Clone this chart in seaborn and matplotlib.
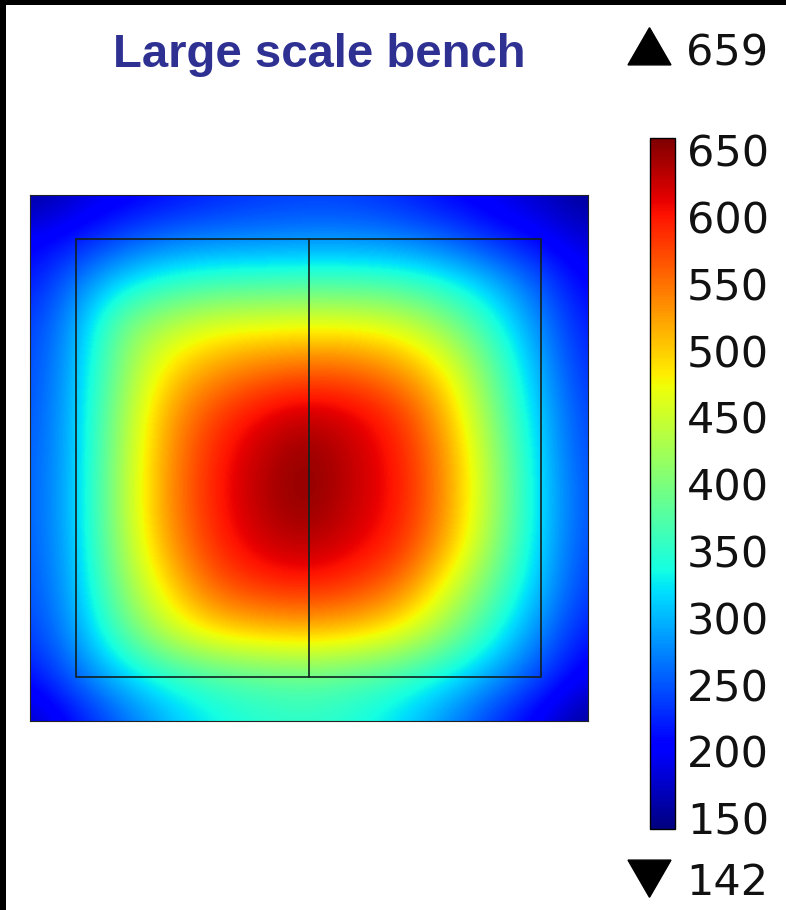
import numpy as np
import matplotlib
matplotlib.use("Agg")
import matplotlib.pyplot as plt
import seaborn as sns
from matplotlib.patches import Rectangle
from matplotlib.lines import Line2D

# ---------------- data ----------------
title_text = "Large scale bench"
value_min = 142
value_max = 659
cbar_ticks = [150, 200, 250, 300, 350, 400, 450, 500, 550, 600, 650]

# field values at a 13 x 13 grid of nodes (rows top -> bottom, cols left -> right)
row_00 = [150, 178, 195, 210, 222, 232, 236, 234, 222, 205, 190, 172, 148]
row_01 = [200, 215, 245, 262, 270, 272, 275, 275, 268, 252, 225, 205, 180]
row_02 = [215, 270, 320, 350, 360, 364, 367, 367, 360, 337, 300, 250, 200]
row_03 = [235, 290, 400, 440, 468, 472, 476, 474, 460, 412, 345, 275, 215]
row_04 = [240, 298, 410, 495, 530, 552, 562, 558, 530, 478, 380, 290, 225]
row_05 = [245, 302, 425, 525, 580, 612, 630, 615, 585, 510, 400, 302, 235]
row_06 = [250, 302, 432, 535, 598, 632, 655, 626, 598, 528, 418, 308, 240]
row_07 = [252, 304, 435, 538, 600, 636, 656, 625, 600, 530, 422, 312, 245]
row_08 = [250, 302, 428, 528, 592, 622, 635, 615, 590, 515, 412, 308, 240]
row_09 = [245, 298, 408, 495, 562, 585, 592, 578, 545, 462, 378, 298, 232]
row_10 = [235, 287, 375, 448, 488, 502, 507, 497, 468, 410, 340, 272, 215]
row_11 = [210, 260, 310, 345, 365, 375, 380, 370, 355, 325, 285, 240, 190]
row_12 = [168, 210, 255, 300, 330, 345, 350, 340, 315, 275, 230, 190, 148]

# geometry of the drawn outline (in grid-node units)
inner_box = (1, 11, 1, 11)   # x0, x1, y0, y1
divider_x = 6

# ---------------- figure ----------------
sns.set_theme(style="white")
plt.rcParams["font.family"] = ["DejaVu Sans"]

W, H = 786, 910
fig = plt.figure(figsize=(W / 100, H / 100), dpi=100, facecolor="white")

field = np.array([row_00, row_01, row_02, row_03, row_04, row_05, row_06,
                  row_07, row_08, row_09, row_10, row_11, row_12], dtype=float)
ny, nx = field.shape
cmap = matplotlib.colormaps["jet"]

ax = fig.add_axes([30 / W, (H - 721) / H, 558 / W, 526 / H])
im = ax.imshow(field, cmap=cmap, vmin=value_min, vmax=value_max,
               interpolation="bicubic", interpolation_stage="data",
               extent=(-0.5, nx - 0.5, ny - 0.5, -0.5), aspect="auto")
ax.set_xlim(0, nx - 1)
ax.set_ylim(ny - 1, 0)
ax.set_xticks([])
ax.set_yticks([])
for s in ax.spines.values():
    s.set_linewidth(0.8)
    s.set_color("#222222")

x0, x1, y0, y1 = inner_box
ax.plot([x0, x1, x1, x0, x0], [y0, y0, y1, y1, y0], color="#10201e",
        lw=1.4, alpha=0.85)
ax.plot([divider_x, divider_x], [y0, y1], color="#10201e", lw=1.4, alpha=0.85)

# colorbar
cax = fig.add_axes([650 / W, (H - 829) / H, 25 / W, 691 / H])
cb = fig.colorbar(im, cax=cax, ticks=cbar_ticks)
cb.outline.set_linewidth(1.0)
cb.outline.set_edgecolor("black")
cax.tick_params(axis="y", direction="in", length=4, width=0.8, left=True,
                right=True, labelsize=31, pad=8.5, colors="black")
for t in cax.get_yticklabels():
    t.set_color("#111111")

# title
fig.text(319 / W, 1 - 67 / H, title_text, fontsize=34, fontweight="bold",
         color="#2E3192", family=["Liberation Sans", "DejaVu Sans"],
         ha="center", va="baseline")

# max / min annotations (triangle markers + real text)
tri_px = 49.6 * 72 / 100  # marker size in points
fig.add_artist(Line2D([648.5 / W], [1 - 51.8 / H], marker=(3, 0, 0),
                      markersize=tri_px, color="black", lw=0,
                      transform=fig.transFigure))
fig.add_artist(Line2D([649 / W], [1 - 872 / H], marker=(3, 0, 180),
                      markersize=tri_px, color="black", lw=0,
                      transform=fig.transFigure))
fig.text(686 / W, 1 - 65 / H, f"{value_max}", fontsize=31, ha="left",
         va="baseline", color="#111111")
fig.text(686 / W, 1 - 895 / H, f"{value_min}", fontsize=31, ha="left",
         va="baseline", color="#111111")

# black frame edges (top and left)
fig.add_artist(Rectangle((0, 1 - 5 / H), 1, 5 / H, transform=fig.transFigure,
                         color="black", lw=0))
fig.add_artist(Rectangle((0, 0), 6 / W, 1, transform=fig.transFigure,
                         color="black", lw=0))

fig.savefig("out.png", dpi=100, facecolor="white")
